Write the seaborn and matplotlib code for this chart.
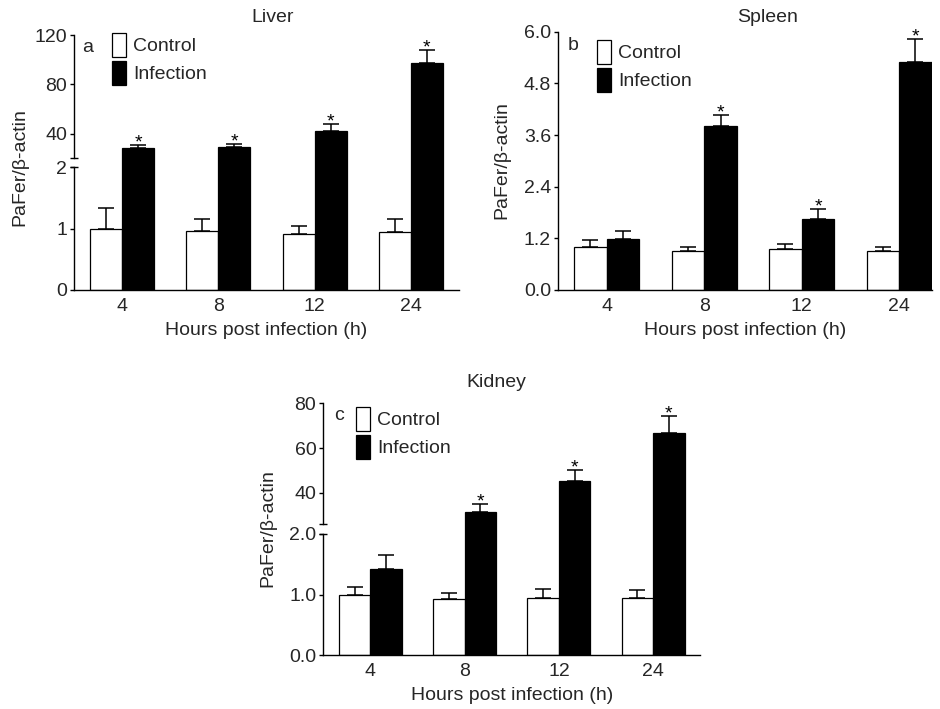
import numpy as np
import pandas as pd
import matplotlib
matplotlib.use('Agg')
import matplotlib.pyplot as plt
import seaborn as sns
from matplotlib.transforms import Bbox, TransformedBbox

# ---------------- data ----------------
hours = ['4', '8', '12', '24']
groups = ['Control', 'Infection']

liver_control = [1.00, 0.955, 0.91, 0.945]
liver_control_err = [0.34, 0.20, 0.14, 0.22]
liver_infection = [28.7, 29.8, 42.4, 97.1]
liver_infection_err = [2.2, 2.4, 5.9, 10.5]
liver_sig = [True, True, True, True]

spleen_control = [0.99, 0.91, 0.945, 0.91]
spleen_control_err = [0.16, 0.10, 0.135, 0.09]
spleen_infection = [1.19, 3.80, 1.65, 5.30]
spleen_infection_err = [0.18, 0.27, 0.22, 0.52]
spleen_sig = [False, True, True, True]

kidney_control = [1.00, 0.92, 0.94, 0.95]
kidney_control_err = [0.12, 0.10, 0.15, 0.12]
kidney_infection = [1.42, 31.5, 45.2, 66.9]
kidney_infection_err = [0.23, 3.3, 5.0, 7.5]
kidney_sig = [False, True, True, True]

titles = ['Liver', 'Spleen', 'Kidney']
panel_letters = ['a', 'b', 'c']
ylabel_text = 'PaFer/β-actin'
xlabel_text = 'Hours post infection (h)'

# ---------------- style ----------------
sns.set_theme(style='ticks')
plt.rcParams['font.family'] = ['Liberation Sans', 'DejaVu Sans']
plt.rcParams['axes.linewidth'] = 1.0
FS = 14

W, H = 940, 709
fig = plt.figure(figsize=(W / 100, H / 100), dpi=100)


def add_axes_px(left, top, right, bottom):
    return fig.add_axes([left / W, 1 - bottom / H, (right - left) / W, (bottom - top) / H])


def fpx(x, y):
    return x / W, 1 - y / H


palette = {'Control': 'white', 'Infection': 'black'}


def make_df(ctrl, ctrl_err, inf, inf_err):
    return pd.DataFrame({
        'hours': hours * 2,
        'group': ['Control'] * 4 + ['Infection'] * 4,
        'value': list(ctrl) + list(inf),
        'err': list(ctrl_err) + list(inf_err),
    })


def draw(ax, df, sig):
    sns.barplot(data=df, x='hours', y='value', hue='group', order=hours,
                hue_order=groups, palette=palette, width=0.667,
                edgecolor='black', linewidth=0.9, errorbar=None, ax=ax)
    for gi, (cont, g) in enumerate(zip(ax.containers, groups)):
        sub = df[df['group'] == g].set_index('hours').loc[hours]
        xs = [p.get_x() + p.get_width() / 2 for p in cont.patches]
        ys = [p.get_height() for p in cont.patches]
        errs = sub['err'].values
        ax.errorbar(xs, ys, yerr=[np.zeros(len(errs)), errs], fmt='none',
                    ecolor='black', elinewidth=1.1, capsize=6, capthick=1.1,
                    zorder=3)
        if g == 'Infection':
            for x, y, e, s in zip(xs, ys, errs, sig):
                if s:
                    ax.annotate('*', xy=(x, y + e), xytext=(0, 1.5),
                                textcoords='offset points', ha='center',
                                va='center', fontsize=FS, color='black')
    ax.set_xlabel('')
    ax.set_ylabel('')
    ax.set_xlim(-0.5, 3.5)
    ax.tick_params(axis='y', direction='out', length=3, width=1.0,
                   labelsize=FS, pad=2, color='black')
    ax.tick_params(axis='x', length=0, labelsize=FS, pad=6)
    sns.despine(ax=ax)
    for sp in ax.spines.values():
        sp.set_color('black')
    ax.set_facecolor('none')


def add_legend(ax, handles, labels, x, y):
    ax.legend(handles, labels, loc='upper left', bbox_to_anchor=fpx(x, y),
              bbox_transform=fig.transFigure, frameon=False, fontsize=FS,
              handlelength=0.72, handleheight=1.5, labelspacing=0.22,
              handletextpad=0.35, borderpad=0, borderaxespad=0)


def broken(left, right, top, mid_top, mid_bot, bottom, ylim_up, ylim_lo,
           up_ticks, up_labels, lo_ticks, lo_labels, df, sig):
    ax_up = add_axes_px(left, top, right, mid_top)
    ax_lo = add_axes_px(left, mid_bot, right, bottom)
    draw(ax_up, df, sig)
    draw(ax_lo, df, sig)
    ax_up.set_ylim(*ylim_up)
    ax_lo.set_ylim(*ylim_lo)
    ax_up.set_yticks(up_ticks, up_labels)
    ax_lo.set_yticks(lo_ticks, lo_labels)
    ax_up.spines['bottom'].set_visible(False)
    ax_up.tick_params(axis='x', bottom=False, labelbottom=False)
    ax_lo.set_xlabel(xlabel_text, fontsize=FS, labelpad=5)
    # let lower bars run through the gap
    ext = (mid_bot - mid_top) / (bottom - mid_bot)
    clip = TransformedBbox(Bbox([[0, 0], [1, 1 + ext]]), ax_lo.transAxes)
    for p in ax_lo.patches:
        p.set_clip_box(clip)
    # break marks
    ax_up.plot([0], [0], marker='_', ms=6, mew=1.0, color='black',
               transform=ax_up.transAxes, clip_on=False)
    ax_lo.plot([0], [1], marker='_', ms=6, mew=1.0, color='black',
               transform=ax_lo.transAxes, clip_on=False)
    if ax_lo.get_legend():
        ax_lo.get_legend().remove()
    return ax_up, ax_lo


# ---------------- Liver ----------------
df_liver = make_df(liver_control, liver_control_err, liver_infection, liver_infection_err)
l_up, l_lo = broken(74, 459, 35, 158, 167.3, 290, (20.6, 120), (0, 2),
                    [40, 80, 120], ['40', '80', '120'], [0, 1, 2], ['0', '1', '2'],
                    df_liver, liver_sig)
handles, labels = l_up.get_legend_handles_labels()
add_legend(l_up, handles, labels, 112, 33)

# ---------------- Spleen ----------------
df_spleen = make_df(spleen_control, spleen_control_err, spleen_infection, spleen_infection_err)
ax_s = add_axes_px(558, 31.7, 932, 290)
draw(ax_s, df_spleen, spleen_sig)
ax_s.set_xlim(-0.5, 3.336)
ax_s.set_ylim(0, 6.0)
sp_ticks = [0, 1.2, 2.4, 3.6, 4.8, 6.0]
ax_s.set_yticks(sp_ticks, [f'{t:.1f}' for t in sp_ticks])
ax_s.set_xlabel(xlabel_text, fontsize=FS, labelpad=5)
h2, l2 = ax_s.get_legend_handles_labels()
add_legend(ax_s, h2, l2, 597, 40)

# ---------------- Kidney ----------------
df_kidney = make_df(kidney_control, kidney_control_err, kidney_infection, kidney_infection_err)
k_up, k_lo = broken(323.3, 700.3, 403.3, 524.3, 534, 655, (25.9, 80), (0, 2),
                    [40, 60, 80], ['40', '60', '80'], [0, 1, 2], ['0.0', '1.0', '2.0'],
                    df_kidney, kidney_sig)
h3, l3 = k_up.get_legend_handles_labels()
add_legend(k_up, h3, l3, 356, 407)

# ---------------- texts ----------------
for t, (x, y) in zip(titles, [(273, 17), (768, 17), (496, 382)]):
    fig.text(*fpx(x, y), t, ha='center', va='center', fontsize=FS)
for t, (x, y) in zip(panel_letters, [(88, 47), (573, 46), (339, 416)]):
    fig.text(*fpx(x, y), t, ha='center', va='center', fontsize=FS)
for (x, y) in [(20, 167), (502, 160), (268, 528)]:
    fig.text(*fpx(x, y), ylabel_text, ha='center', va='center', rotation=90, fontsize=FS)

fig.savefig('out.png', dpi=100)
